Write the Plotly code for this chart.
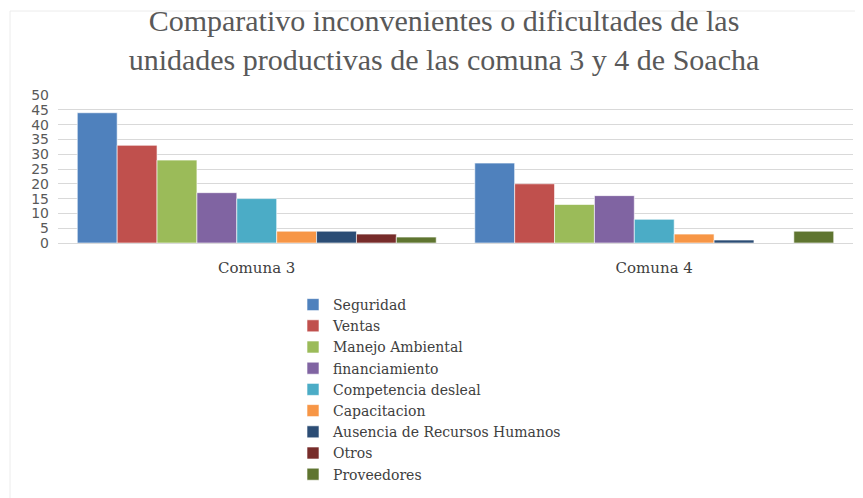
import plotly.graph_objects as go

categories = ["Comuna 3", "Comuna 4"]
series_names = ["Seguridad", "Ventas", "Manejo Ambiental", "financiamiento",
                "Competencia desleal", "Capacitacion", "Ausencia de Recursos Humanos",
                "Otros", "Proveedores"]
seguridad = [44, 27]
ventas = [33, 20]
manejo_ambiental = [28, 13]
financiamiento = [17, 16]
competencia_desleal = [15, 8]
capacitacion = [4, 3]
ausencia_rh = [4, 1]
otros = [3, 0]
proveedores = [2, 4]
series_values = [seguridad, ventas, manejo_ambiental, financiamiento,
                 competencia_desleal, capacitacion, ausencia_rh, otros, proveedores]
colors = ["#4f81bd", "#c0504d", "#9bbb59", "#8064a2", "#4bacc6",
          "#f79646", "#2c4d75", "#772c2a", "#5f7530"]
y_ticks = [0, 5, 10, 15, 20, 25, 30, 35, 40, 45, 50]

W, H = 855, 498
L, T, R, B = 50, 87, 10, 263
PW, PH = W - L - R, H - T - B

fig = go.Figure()
for name, vals, c in zip(series_names, series_values, colors):
    fig.add_trace(go.Bar(name=name, x=categories, y=vals, marker_color=c,
                         marker_line=dict(color="rgba(255,255,255,0.6)", width=1)))

serif = "DejaVu Serif"
fig.update_layout(
    width=W, height=H,
    paper_bgcolor="white", plot_bgcolor="white",
    barmode="group", bargap=0.097, bargroupgap=0,
    margin=dict(l=L, r=R, t=T, b=B),
    title=dict(text="Comparativo inconvenientes o dificultades de las<br>unidades productivas de las comuna 3 y 4 de Soacha",
               x=436 / W, xanchor="center", yref="container", y=1 - 22.5 / H, yanchor="middle",
               font=dict(family="Liberation Serif", size=30, color="#595959")),
    font=dict(family=serif, color="#404040"),
    legend=dict(orientation="v", x=(285 - L) / PW, xanchor="left", y=-(281 - (T + PH)) / PH, yanchor="top",
                font=dict(size=14, color="#404040", family=serif),
                itemwidth=30, tracegroupgap=0, bgcolor="rgba(0,0,0,0)"),
    showlegend=True,
)
fig.update_yaxes(range=[0, 50], tickvals=y_ticks, showgrid=True, gridcolor="#d9d9d9",
                 gridwidth=1, zeroline=False, showline=False,
                 tickfont=dict(size=14, color="#595959", family="DejaVu Sans"),
                 ticks="", ticklabelstandoff=8)
fig.update_xaxes(showline=True, linecolor="#d9d9d9", ticks="",
                 tickfont=dict(size=15, color="#404040", family=serif),
                 ticklabelstandoff=11)
fig.add_shape(type="rect", xref="paper", yref="paper",
              x0=(2 - L) / PW, x1=1 + 30 / PW, y0=-3, y1=1 + (T - 3) / PH,
              line=dict(color="#ececec", width=1), fillcolor="rgba(0,0,0,0)", layer="below")

fig.write_html("out.html")
